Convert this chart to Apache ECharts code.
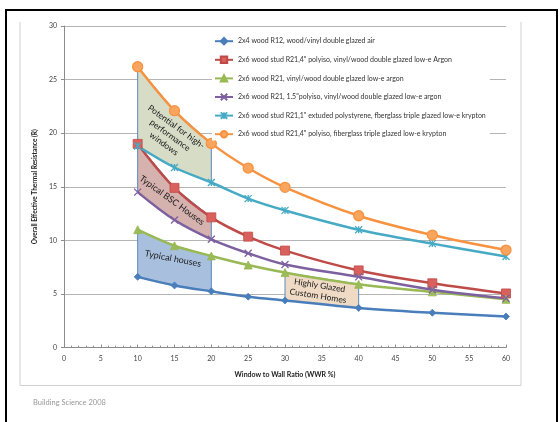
<!DOCTYPE html>
<html>
<head>
<meta charset="utf-8">
<style>html,body{margin:0;padding:0;background:#fff;}#c{width:560px;height:422px;}</style>
<script src="https://cdn.jsdelivr.net/npm/echarts@6/dist/echarts.min.js"></script>
</head>
<body>
<div id="c"></div>
<script>
// ---- data ----
const wwr = [10, 15, 20, 25, 30, 40, 50, 60];
const names = [
  '2x4 wood R12, wood/vinyl double glazed air',
  '2x6 wood stud R21,4" polyiso, vinyl/wood double glazed low-e Argon',
  '2x6 wood R21, vinyl/wood double glazed low-e argon',
  '2x6 wood R21, 1.5"polyiso, vinyl/wood double glazed low-e argon',
  '2x6 wood stud R21,1" extuded polystyrene, fberglass triple glazed low-e krypton',
  '2x6 wood stud R21,4" polyiso, fiberglass triple glazed low-e krypton'
];
const r12Air      = [6.6, 5.8, 5.25, 4.75, 4.4, 3.7, 3.25, 2.9];
const r21PolyArg  = [19.0, 14.9, 12.15, 10.35, 9.05, 7.2, 6.0, 5.05];
const r21Argon    = [11.0, 9.5, 8.55, 7.7, 7.0, 5.9, 5.2, 4.5];
const r21P15Arg   = [14.5, 11.9, 10.1, 8.8, 7.75, 6.6, 5.4, 4.6];
const r21XpsKr    = [18.8, 16.8, 15.4, 13.9, 12.8, 11.0, 9.7, 8.5];
const r21PolyKr   = [26.2, 22.1, 19.05, 16.75, 14.95, 12.3, 10.5, 9.1];
const xTicks = [0,5,10,15,20,25,30,35,40,45,50,55,60];
const yTicks = [0,5,10,15,20,25,30];

// annotated regions (between two series, over index range)
const regions = [
  {top: r21PolyKr, bottom: r21XpsKr, from: 0, to: 2, fill: '#d7dcc6',
   lines: ['Potential for high-', 'performance', 'windows'], at: [14.4, 19.8], rot: -36, size: 8.5},
  {top: r21PolyArg, bottom: r21P15Arg, from: 0, to: 2, fill: '#d5b2ae',
   lines: ['Typical BSC Houses'], at: [14.65, 13.75], rot: -36, size: 9},
  {top: r21Argon, bottom: r12Air, from: 0, to: 2, fill: '#a8c0de',
   lines: ['Typical houses'], at: [14.8, 8.3], rot: -11, size: 9},
  {top: r21Argon, bottom: r12Air, from: 4, to: 5, fill: '#eedac5',
   lines: ['Highly Glazed', 'Custom Homes'], at: [34.6, 5.3], rot: -9, size: 8.5}
];

const colors = ['#4a7ebb', '#be4b48', '#98b954', '#7d60a0', '#46aac5', '#f69240'];
const symFill = ['#4a7ebb', '#d9605c', '#9bbb59', '#7d60a0', '#46aac5', '#f9a55e'];
const symbols = ['diamond', 'rect', 'triangle',
  'path://M0,0L10,10M10,0L0,10',
  'path://M0,0L10,10M10,0L0,10M5,0L5,10',
  'circle'];
const symSizes = [7, 9, 8, 7, 7, 10];
const allData = [r12Air, r21PolyArg, r21Argon, r21P15Arg, r21XpsKr, r21PolyKr];

const FONT = 'Lato, "Open Sans", sans-serif';

const lineSeries = allData.map((arr, k) => ({
  name: names[k],
  type: 'line',
  smooth: 0.35,
  z: 3,
  data: wwr.map((x, i) => [x, arr[i]]),
  symbol: symbols[k],
  symbolSize: symSizes[k],
  lineStyle: {color: colors[k], width: 2.5},
  itemStyle: k >= 3 ? {color: symFill[k], borderColor: colors[k], borderWidth: 1.3}
                    : {color: symFill[k], borderColor: colors[k], borderWidth: 0.8},
  emphasis: {disabled: true}
}));

const regionSeries = {
  type: 'custom',
  z: 1,
  silent: true,
  data: regions.map((r, i) => i),
  renderItem: function (params, api) {
    const r = regions[params.dataIndex];
    const pts = [];
    for (let i = r.from; i <= r.to; i++) pts.push(api.coord([wwr[i], r.top[i]]));
    for (let i = r.to; i >= r.from; i--) pts.push(api.coord([wwr[i], r.bottom[i]]));
    const c = api.coord(r.at);
    return {
      type: 'group',
      children: [
        {type: 'polygon', shape: {points: pts},
         style: {fill: r.fill, stroke: '#5b8ac4', lineWidth: 1}},
        {type: 'text', x: c[0], y: c[1], rotation: r.rot * Math.PI / 180,
         style: {text: r.lines.join('\n'), fill: '#1a1a1a', align: 'center',
                 verticalAlign: 'middle', font: r.size + 'px ' + FONT, lineHeight: r.size + 2}}
      ]
    };
  }
};

const chart = echarts.init(document.getElementById('c'), null, {renderer: 'canvas'});
chart.setOption({
  animation: false,
  backgroundColor: '#fff',
  color: colors,
  grid: {left: 64, right: 54, top: 26, bottom: 74.4, containLabel: false},
  legend: {
    orient: 'vertical', left: 212, top: 35,
    itemWidth: 18, itemHeight: 8, itemGap: 10.2,
    backgroundColor: '#fff', padding: [2, 4, 2, 2],
    textStyle: {fontSize: 7, color: '#333', fontFamily: FONT},
    data: names
  },
  xAxis: {
    type: 'value', min: 0, max: 60, interval: 5,
    name: 'Window to Wall Ratio (WWR %)', nameLocation: 'middle', nameGap: 24,
    nameTextStyle: {fontSize: 7, fontWeight: 'bold', color: '#222', fontFamily: FONT},
    axisLine: {show: true, lineStyle: {color: '#8c8c8c', width: 1}},
    axisTick: {show: true, inside: true, length: 3, lineStyle: {color: '#8c8c8c'}},
    minorTick: {show: true, splitNumber: 5, length: 2, lineStyle: {color: '#8c8c8c'}},
    axisLabel: {fontSize: 7, color: '#444', margin: 8, fontFamily: FONT,
      formatter: v => xTicks.includes(v) ? String(v) : ''},
    splitLine: {show: false}
  },
  yAxis: {
    type: 'value', min: 0, max: 30, interval: 5,
    name: 'Overall Effective Thermal Resistance (R)', nameLocation: 'middle', nameGap: 22,
    nameRotate: 90,
    nameTextStyle: {fontSize: 6.5, fontWeight: 'bold', color: '#222', fontFamily: FONT},
    axisLine: {show: true, lineStyle: {color: '#8c8c8c', width: 1}},
    axisTick: {show: true, length: 3, lineStyle: {color: '#8c8c8c'}},
    axisLabel: {fontSize: 7, color: '#444', margin: 7, fontFamily: FONT,
      formatter: v => yTicks.includes(v) ? String(v) : ''},
    splitLine: {show: true, lineStyle: {color: '#b5b5b5', width: 1}}
  },
  graphic: [
    {type: 'rect', shape: {x: 6, y: 10, width: 551, height: 420},
     style: {fill: 'none', stroke: '#000', lineWidth: 2}, z: 100, silent: true},
    {type: 'polyline', shape: {points: [[20, 22], [20, 385.5], [521, 385.5], [521, 22]]},
     style: {fill: 'none', stroke: '#d0d0d0', lineWidth: 1}, z: 100, silent: true},
    {type: 'text', x: 33, y: 403,
     style: {text: 'Building Science 2008', fill: '#999', font: '7.5px ' + FONT,
             verticalAlign: 'middle'}, z: 100, silent: true}
  ],
  series: [regionSeries].concat(lineSeries)
});
</script>
</body>
</html>
